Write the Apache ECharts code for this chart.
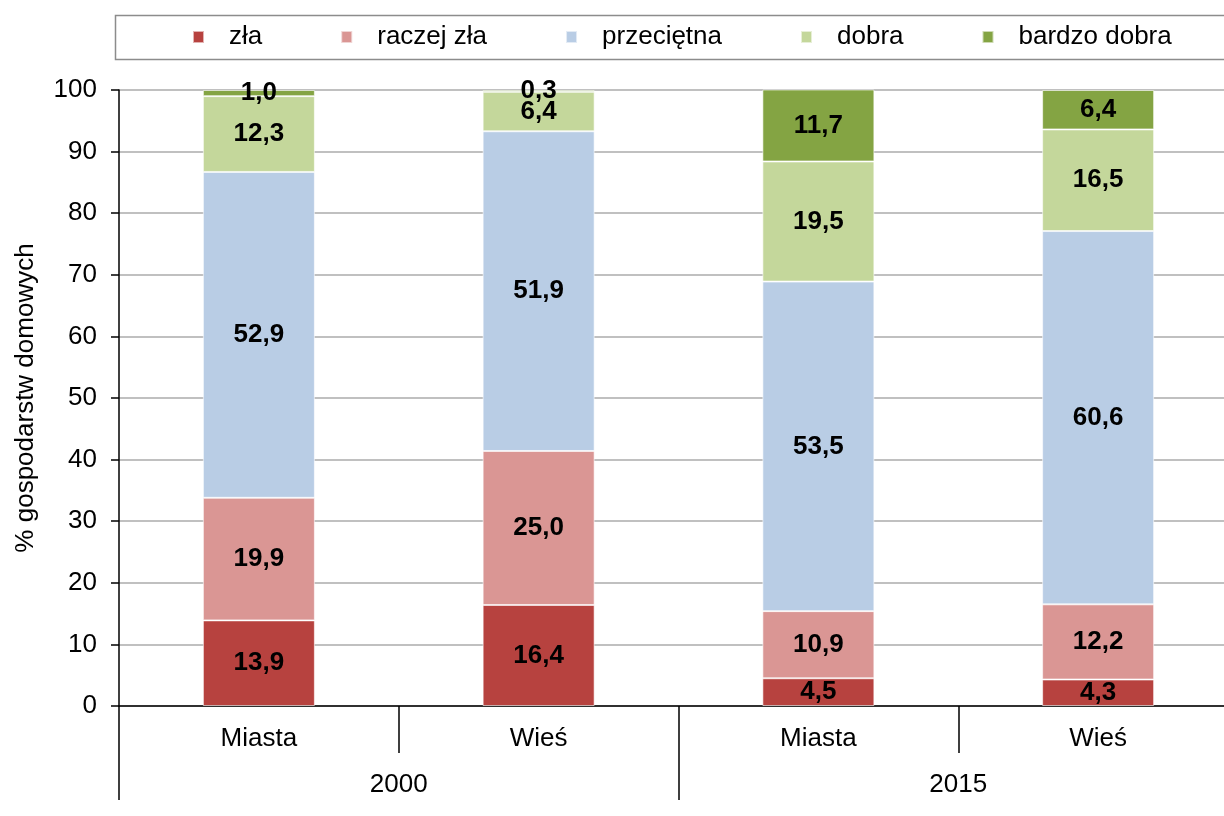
<!DOCTYPE html>
<html>
<head>
<meta charset="utf-8">
<script src="https://cdn.jsdelivr.net/npm/echarts@6/dist/echarts.min.js"></script>
<style>
  html, body { margin: 0; padding: 0; background: #fff; }
  #chart { width: 1224px; height: 816px; }
</style>
</head>
<body>
<div id="chart"></div>
<script>
// dane
var podgrupy = ['Miasta', 'Wieś', 'Miasta', 'Wieś'];
var lata = ['2000', '2015'];
var zla = [13.9, 16.4, 4.5, 4.3];
var raczejZla = [19.9, 25.0, 10.9, 12.2];
var przecietna = [52.9, 51.9, 53.5, 60.6];
var dobra = [12.3, 6.4, 19.5, 16.5];
var bardzoDobra = [1.0, 0.3, 11.7, 6.4];

var FONT = '"Liberation Sans", Arial, sans-serif';
var FS = 26;

function seria(nazwa, dane, kolor) {
    return {
        name: nazwa,
        type: 'bar',
        stack: 'ocena',
        barWidth: 112,
        data: dane,
        itemStyle: { color: kolor, borderColor: 'rgba(255,255,255,0.6)', borderWidth: 1 },
        label: {
            show: true,
            position: 'inside',
            color: '#000',
            fontFamily: FONT,
            fontWeight: 'bold',
            fontSize: FS,
            formatter: function (p) { return p.value.toFixed(1).replace('.', ','); }
        }
    };
}

var chart = echarts.init(document.getElementById('chart'));
chart.setOption({
    animation: false,
    textStyle: { fontFamily: FONT },
    // ramka legendy
    graphic: [{
        type: 'rect',
        left: 113,
        top: 13,
        shape: { width: 1140, height: 44 },
        style: { fill: 'none', stroke: '#8c8c8c', lineWidth: 1.5 },
        z: 0
    }],
    legend: {
        top: 24,
        left: 192,
        itemWidth: 11,
        itemHeight: 12,
        itemGap: 78,
        icon: 'rect',
        padding: 0,
        textStyle: { fontSize: FS, color: '#000', fontFamily: FONT, padding: [0, 0, 0, 20] },
        data: ['zła', 'raczej zła', 'przeciętna', 'dobra', 'bardzo dobra']
    },
    grid: { left: 119, width: 1119, top: 90, bottom: 110, outerBoundsMode: 'none' },
    xAxis: [{
        type: 'category',
        data: podgrupy,
        position: 'bottom',
        axisLine: { lineStyle: { color: '#000', width: 1.5 } },
        axisTick: { show: true, interval: 0, length: 47, lineStyle: { color: '#000', width: 1.5 } },
        axisLabel: { color: '#000', fontSize: FS, margin: 20, fontFamily: FONT }
    }, {
        type: 'category',
        data: lata,
        position: 'bottom',
        offset: 47,
        axisLine: { show: false },
        axisTick: { show: true, interval: 0, length: 47, lineStyle: { color: '#000', width: 1.5 } },
        axisLabel: { color: '#000', fontSize: FS, margin: 19, fontFamily: FONT }
    }],
    yAxis: {
        type: 'value',
        min: 0,
        max: 100,
        interval: 10,
        name: '% gospodarstw domowych',
        nameLocation: 'middle',
        nameGap: 80,
        nameTextStyle: { fontSize: FS, color: '#000', fontFamily: FONT },
        axisLine: { show: true, lineStyle: { color: '#000', width: 1.5 } },
        axisTick: { show: true, length: 8, lineStyle: { color: '#000', width: 1.5 } },
        axisLabel: { color: '#000', fontSize: FS, margin: 22, fontFamily: FONT },
        splitLine: { lineStyle: { color: '#ababab', width: 1.5 } }
    },
    series: [
        seria('zła', zla, '#b7423f'),
        seria('raczej zła', raczejZla, '#da9694'),
        seria('przeciętna', przecietna, '#b9cde5'),
        seria('dobra', dobra, '#c4d79b'),
        seria('bardzo dobra', bardzoDobra, '#84a443')
    ]
});
</script>
</body>
</html>
